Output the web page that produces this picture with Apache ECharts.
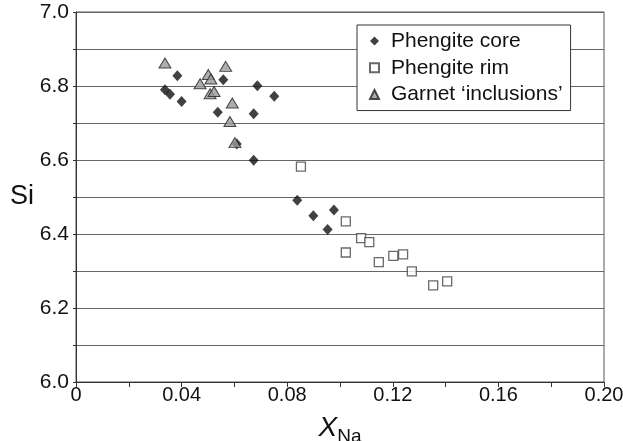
<!DOCTYPE html>
<html style="height: 100%">
    <head>
        <title>Si vs XNa</title>
        <script type="text/javascript" src="https://cdn.jsdelivr.net/npm/echarts@6/dist/echarts.min.js"></script>
    </head>

    <body style="height: 100%; margin: 0; background: #fff">
        <div id="target" style="width: 623px; height: 441px"></div>

<script>
// [XNa, Si]
let phengiteCore = [
    [0.0337, 6.790], [0.0356, 6.778], [0.0384, 6.828], [0.0400, 6.758],
    [0.0558, 6.817], [0.0687, 6.801], [0.0537, 6.729], [0.0673, 6.725],
    [0.0751, 6.772], [0.0673, 6.599], [0.0609, 6.643], [0.0838, 6.491],
    [0.0899, 6.449], [0.0977, 6.465], [0.0953, 6.412],
];

let phengiteRim = [
    [0.0852, 6.582], [0.1022, 6.434], [0.1080, 6.389], [0.1111, 6.378],
    [0.1022, 6.350], [0.1147, 6.324], [0.1202, 6.341], [0.1239, 6.345],
    [0.1272, 6.299], [0.1353, 6.261], [0.1406, 6.272],
];

let garnetInclusions = [
    [0.0337, 6.862], [0.0501, 6.831], [0.0511, 6.819], [0.0470, 6.806],
    [0.0567, 6.853], [0.0508, 6.779], [0.0523, 6.785], [0.0592, 6.754],
    [0.0583, 6.704], [0.0602, 6.647],
];

let seriesNames = ["Phengite core", "Phengite rim", "Garnet \u2018inclusions\u2019"];

let FONT = "'Liberation Sans', Arial, Helvetica, sans-serif";

let chart = echarts.init(document.getElementById('target'));

let option = {
    animation: false,
    textStyle: { fontFamily: FONT },
    grid: {
        left: 76,
        right: 19,
        top: 12,
        bottom: 59,
        outerBoundsMode: "none",
        containLabel: false,
        show: true,
        borderColor: "#555",
        borderWidth: 1,
    },
    legend: {
        orient: "vertical",
        left: 357,
        top: 25,
        // legend items come out ~36px tall here, so pull them together
        padding: [-2, 8, -2, 12],
        itemGap: -9.5,
        itemWidth: 9,
        itemHeight: 9,
        backgroundColor: "#fff",
        borderColor: "#333",
        borderWidth: 1,
        textStyle: { fontSize: 21, color: "#111", padding: [0, 0, 0, 7], fontFamily: FONT },
        data: [
            { name: seriesNames[0], icon: "diamond" },
            { name: seriesNames[1], icon: "rect" },
            { name: seriesNames[2], icon: "triangle" },
        ],
    },
    xAxis: {
        type: "value",
        min: 0,
        max: 0.2,
        interval: 0.02,
        name: "{x|X}{s|Na}",
        nameLocation: "middle",
        nameGap: 22,
        nameMoveOverlap: false,
        nameTextStyle: {
            rich: {
                x: { fontSize: 28, fontStyle: "italic", color: "#111", verticalAlign: "bottom", padding: [0, 0, 1, 0], fontFamily: FONT },
                s: { fontSize: 19, color: "#111", verticalAlign: "bottom", fontFamily: FONT },
            },
        },
        axisLine: { lineStyle: { color: "#333", width: 1 } },
        axisTick: { show: true, length: 5, lineStyle: { color: "#333" } },
        splitLine: { show: false },
        axisLabel: {
            fontSize: 20,
            color: "#111",
            margin: -4,
            formatter: v => {
                if (v == 0) return "0";
                return Math.round(v * 50) % 2 == 0 ? v.toFixed(2) : "";
            },
        },
    },
    yAxis: {
        type: "value",
        min: 6.0,
        max: 7.0,
        interval: 0.1,
        name: "Si",
        nameLocation: "middle",
        nameRotate: 0,
        nameGap: 42,
        nameMoveOverlap: false,
        nameTextStyle: { fontSize: 27, color: "#111", fontFamily: FONT },
        axisLine: { show: true, lineStyle: { color: "#333", width: 1 } },
        axisTick: { show: true, length: 3, lineStyle: { color: "#333" } },
        splitLine: { show: true, lineStyle: { color: "#666", width: 1 } },
        axisLabel: {
            fontSize: 21,
            color: "#111",
            margin: 7,
            formatter: v => Math.round(v * 10) % 2 == 0 ? v.toFixed(1) : "",
        },
    },
    series: [
        {
            name: seriesNames[0],
            type: "scatter",
            data: phengiteCore,
            symbol: "diamond",
            symbolSize: [10, 11],
            itemStyle: { color: "#111" },
        },
        {
            name: seriesNames[1],
            type: "scatter",
            data: phengiteRim,
            symbol: "rect",
            symbolSize: 9,
            itemStyle: { color: "#fff", borderColor: "#444", borderWidth: 1.3 },
        },
        {
            name: seriesNames[2],
            type: "scatter",
            data: garnetInclusions,
            symbol: "triangle",
            symbolSize: [12, 10],
            itemStyle: { color: "#9a9a9a", borderColor: "#222", borderWidth: 1 },
        },
    ],
};

chart.setOption(option);
</script>
    </body>
</html>
